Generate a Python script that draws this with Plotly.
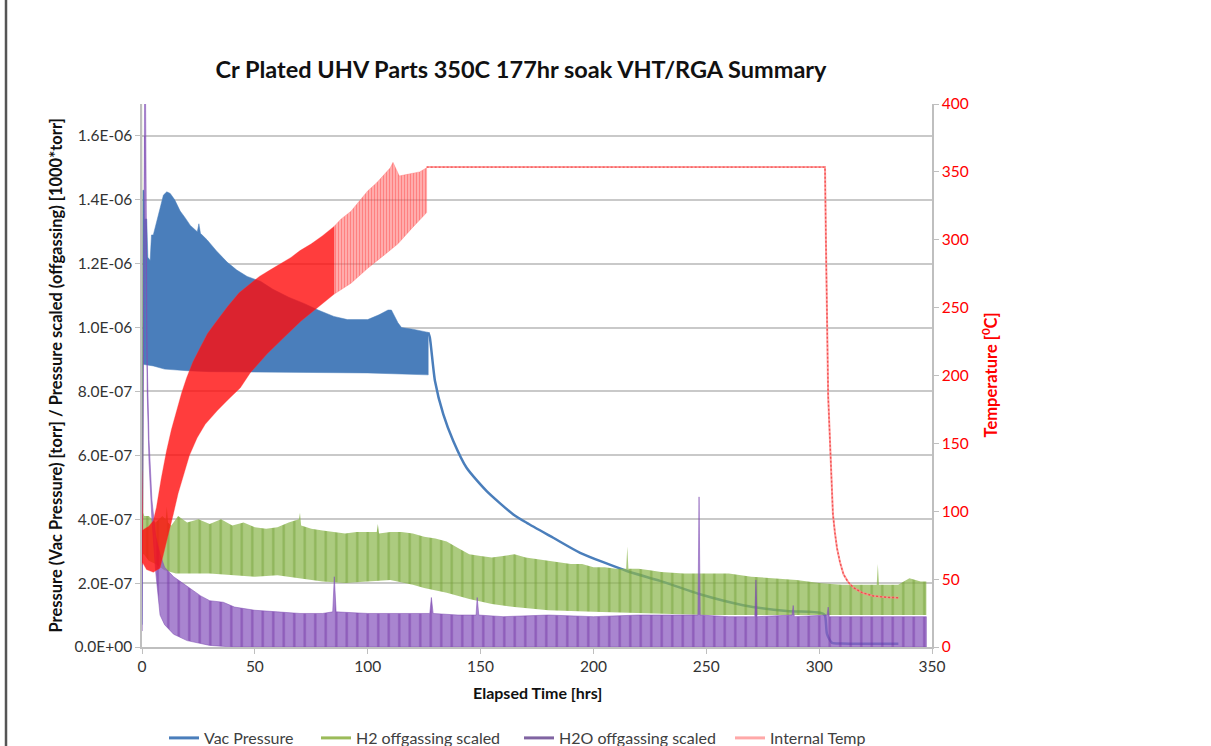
import plotly.graph_objects as go

# ---------------- data ----------------
# Left-axis pressures are listed in units of 1e-7 torr, times in hours.
P_UNIT = 1e-7

# Vac Pressure: oscillation envelope while the chamber is cycling (0-127 h)
vac_hi_t = [0.0, 0.4, 0.9, 1.2, 2.1, 2.6, 3.6, 4.2, 5.0, 7.3, 9.5, 11.0, 12.5, 14.5, 16.9,
            19.0, 21.4, 24.5, 25.2, 25.9, 28.8, 33.0, 37.7, 42.0, 46.6, 52.5, 58.0, 65.0,
            72.0, 78.0, 85.0, 91.0, 100.0, 105.0, 109.0, 110.5, 112.0, 113.4, 115.0, 120.0,
            126.8]
vac_hi = [0.7, 14.3, 14.3, 13.4, 13.4, 12.2, 12.1, 12.9, 12.9, 13.55, 14.15, 14.25, 14.2,
          14.0, 13.65, 13.45, 13.2, 13.0, 13.25, 12.95, 12.75, 12.4, 12.05, 11.8, 11.6,
          11.45, 11.2, 10.95, 10.75, 10.55, 10.35, 10.25, 10.25, 10.4, 10.55, 10.55, 10.35,
          10.15, 10.0, 9.95, 9.85]
vac_lo_t = [0.0, 0.4, 5.0, 10.0, 20.0, 30.0, 50.0, 70.0, 100.0, 126.8]
vac_lo = [0.7, 8.85, 8.8, 8.7, 8.65, 8.62, 8.6, 8.6, 8.58, 8.52]

# Vac Pressure: single trace after cycling stops
vac_t = [126.8, 127.5, 129.8, 133.5, 137.9, 143.8, 152.7, 164.5, 170.4, 182.2, 194.1,
         214.8, 229.5, 247.2, 266.3, 285.7, 300.5, 302.5, 303.5, 305.7, 310.0, 320.0, 335.1]
vac_p = [9.85, 9.7, 8.33, 7.28, 6.45, 5.61, 4.88, 4.15, 3.89, 3.42, 2.95, 2.38, 2.07, 1.65,
         1.31, 1.13, 1.07, 1.0, 0.40, 0.13, 0.11, 0.10, 0.10]

# H2 offgassing scaled: envelope of the oscillating signal
h2_hi_t = [0.0, 0.3, 0.6, 1.0, 3.0, 6.0, 9.0, 10.5, 11.0, 11.5, 13.0, 16.0, 20.0, 25.0,
           30.0, 35.0, 40.0, 45.0, 50.0, 55.0, 60.0, 65.0, 69.5, 70.0, 70.5, 75.0, 80.0,
           85.0, 90.0, 95.0, 100.0, 104.0, 104.5, 105.0, 110.0, 115.0, 120.0, 125.0, 130.0,
           135.0, 140.0, 145.0, 150.0, 155.0, 160.0, 165.0, 170.0, 175.0, 180.0, 185.0,
           190.0, 195.0, 200.0, 205.0, 210.0, 214.5, 215.0, 215.5, 220.0, 225.0, 230.0,
           240.0, 250.0, 260.0, 270.0, 280.0, 290.0, 300.0, 310.0, 320.0, 325.5, 326.0,
           326.5, 335.0, 340.0, 345.0, 347.5]
h2_hi = [4.0, 18.0, 4.2, 4.1, 4.1, 3.9, 4.1, 4.0, 4.4, 3.9, 3.8, 4.1, 3.9, 4.0, 3.85, 4.0,
         3.8, 3.9, 3.75, 3.7, 3.75, 3.9, 4.0, 4.2, 3.8, 3.7, 3.65, 3.6, 3.55, 3.6, 3.6, 3.6,
         3.85, 3.55, 3.6, 3.6, 3.55, 3.45, 3.4, 3.3, 3.1, 2.9, 2.85, 2.8, 2.85, 2.9, 2.8,
         2.75, 2.7, 2.65, 2.6, 2.6, 2.5, 2.5, 2.45, 2.45, 3.15, 2.45, 2.45, 2.4, 2.35, 2.3,
         2.3, 2.3, 2.2, 2.15, 2.1, 2.0, 1.95, 1.95, 1.95, 2.6, 1.95, 1.95, 2.15, 2.05, 2.05]
h2_lo_t = [0.0, 0.8, 3.0, 6.0, 10.0, 15.0, 20.0, 30.0, 40.0, 50.0, 60.0, 70.0, 80.0, 90.0,
           100.0, 110.0, 120.0, 125.0, 135.0, 145.0, 155.0, 165.0, 180.0, 200.0, 250.0,
           300.0, 347.5]
h2_lo = [2.9, 2.9, 2.7, 2.6, 2.4, 2.3, 2.3, 2.3, 2.25, 2.2, 2.25, 2.15, 2.05, 2.0, 2.05,
         2.1, 1.95, 1.85, 1.7, 1.5, 1.35, 1.25, 1.15, 1.1, 1.0, 1.0, 1.0]

# H2O offgassing scaled: envelope of the oscillating signal
h2o_hi_t = [0.0, 1.2, 1.6, 2.3, 3.1, 4.4, 6.0, 8.0, 10.0, 14.0, 18.0, 21.0, 26.0, 30.0,
            36.0, 41.0, 50.0, 60.0, 70.0, 80.0, 84.5, 85.2, 86.0, 100.0, 110.0, 120.0,
            127.5, 128.2, 129.0, 140.0, 148.0, 148.5, 149.2, 160.0, 180.0, 200.0, 220.0,
            240.0, 246.3, 246.8, 247.3, 260.0, 271.5, 272.0, 272.5, 288.0, 288.5, 289.0,
            303.5, 304.0, 304.5, 320.0, 335.0, 347.5]
h2o_hi = [0.5, 18.0, 17.0, 9.0, 6.5, 4.6, 3.5, 2.9, 2.5, 2.2, 2.0, 1.85, 1.6, 1.45, 1.4,
          1.25, 1.15, 1.1, 1.05, 1.05, 1.1, 2.2, 1.1, 1.05, 1.05, 1.05, 1.05, 1.55, 1.05,
          1.0, 1.0, 1.55, 1.0, 0.95, 1.0, 0.95, 1.0, 1.0, 1.0, 4.7, 1.0, 0.95, 0.95, 2.1,
          0.95, 1.0, 1.3, 0.95, 1.0, 1.25, 0.95, 0.95, 0.95, 0.95]
h2o_lo_t = [0.0, 1.2, 1.6, 2.3, 3.1, 4.4, 6.0, 8.0, 10.0, 14.0, 20.0, 30.0, 40.0, 347.5]
h2o_lo = [0.5, 16.0, 15.0, 8.0, 5.8, 4.0, 2.4, 1.0, 0.7, 0.4, 0.2, 0.05, 0.0, 0.0]

# Internal Temp (deg C): envelope while ramping, dense logging segment (0-85 h)
temp_a_hi_t = [0.0, 0.3, 1.0, 3.0, 5.0, 6.4, 8.5, 10.8, 13.0, 15.3, 17.5, 19.7, 22.5, 25.6,
               29.0, 33.0, 38.0, 43.0, 48.0, 52.0, 57.0, 61.0, 66.0, 70.0, 75.0, 80.0, 85.2]
temp_a_hi = [130, 86, 87, 89, 93, 103, 124, 144, 160, 174, 187, 198, 210, 220, 231, 240,
             251, 261, 268, 273, 278, 282, 287, 292, 297, 303, 310]
temp_a_lo_t = [0.0, 0.3, 2.0, 5.0, 8.0, 11.0, 13.9, 16.0, 18.4, 21.0, 24.4, 28.0, 33.3,
               38.0, 43.6, 48.0, 55.5, 62.9, 70.4, 77.8, 85.2]
temp_a_lo = [60, 62, 57, 55, 58, 78, 98, 113, 127, 141, 154, 164, 174, 182, 191, 202, 216,
             228, 240, 250, 260]
# Internal Temp: sparser logging segment (85-126 h)
temp_b_hi_t = [85.2, 88.0, 92.6, 96.0, 100.0, 104.0, 107.5, 110.0, 111.2, 112.5, 114.0,
               117.0, 120.0, 123.0, 126.1]
temp_b_hi = [310, 315, 321, 328, 336, 342, 348, 353, 357, 352, 347, 348, 349, 350, 353]
temp_b_lo_t = [85.2, 92.6, 100.0, 107.5, 113.4, 119.3, 126.1]
temp_b_lo = [260, 268, 279, 289, 297, 308, 320]
# Internal Temp: soak and cool-down
temp_t = [126.1, 302.6, 303.0, 303.5, 304.0, 304.6, 305.2, 306.1, 307.0, 307.9, 309.3,
          310.8, 312.8, 315.2, 319.0, 324.1, 330.0, 335.2]
temp_c = [353.5, 353.5, 300, 220, 185, 160, 130, 98, 84, 73, 62, 53.5, 48, 43.7, 40, 37.6,
          36.6, 36.3]

x_ticks = [0, 50, 100, 150, 200, 250, 300, 350]
p_ticks = [0, 2e-7, 4e-7, 6e-7, 8e-7, 1.0e-6, 1.2e-6, 1.4e-6, 1.6e-6]
p_tick_text = ["0.0E+00", "2.0E-07", "4.0E-07", "6.0E-07", "8.0E-07", "1.0E-06",
               "1.2E-06", "1.4E-06", "1.6E-06"]
t_ticks = [0, 50, 100, 150, 200, 250, 300, 350, 400]

series_names = ["Vac Pressure", "H2 offgassing scaled", "H2O offgassing scaled",
                "Internal Temp"]
series_colors = ["#4A7EBB", "#9BBB59", "#8064A2", "#FFA8A8"]

# ---------------- figure ----------------
FONT = "Lato, 'Open Sans', sans-serif"


def outline(t_hi, v_hi, t_lo, v_lo, scale=1.0):
    """Closed outline: upper envelope forward, lower envelope back."""
    xs = list(t_hi) + list(t_lo)[::-1]
    ys = [v * scale for v in v_hi] + [v * scale for v in v_lo][::-1]
    return xs, ys


fig = go.Figure()

# Vac Pressure band and tail
bx, by = outline(vac_hi_t, vac_hi, vac_lo_t, vac_lo, P_UNIT)
fig.add_trace(go.Scatter(x=bx, y=by, mode="lines", fill="toself", fillcolor="#4A7EBB",
                         line=dict(width=0.5, color="#4A7EBB"), showlegend=False,
                         hoverinfo="skip"))
fig.add_trace(go.Scatter(x=vac_t, y=[v * P_UNIT for v in vac_p], mode="lines",
                         line=dict(color="#4A7EBB", width=2.5, shape="spline",
                                   smoothing=0.6),
                         showlegend=False))

# H2 band
bx, by = outline(h2_hi_t, h2_hi, h2_lo_t, h2_lo, P_UNIT)
fig.add_trace(go.Scatter(x=bx, y=by, mode="lines", fill="toself",
                         fillcolor="rgba(140,184,78,0.72)",
                         fillpattern=dict(shape="|", size=10.5, solidity=0.22,
                                          fgcolor="rgba(112,158,50,0.95)",
                                          bgcolor="rgba(140,184,78,0.72)"),
                         line=dict(width=0), showlegend=False, hoverinfo="skip"))

# H2O band
bx, by = outline(h2o_hi_t, h2o_hi, h2o_lo_t, h2o_lo, P_UNIT)
fig.add_trace(go.Scatter(x=bx, y=by, mode="lines", fill="toself",
                         fillcolor="rgba(140,92,192,0.75)",
                         fillpattern=dict(shape="|", size=10.5, solidity=0.22,
                                          fgcolor="rgba(108,44,160,0.95)",
                                          bgcolor="rgba(140,92,192,0.75)"),
                         line=dict(width=0.6, color="rgba(128,80,180,0.9)"),
                         showlegend=False, hoverinfo="skip"))

# Internal Temp bands (right axis)
bx, by = outline(temp_a_hi_t, temp_a_hi, temp_a_lo_t, temp_a_lo)
fig.add_trace(go.Scatter(x=bx, y=by, yaxis="y2", mode="lines", fill="toself",
                         fillcolor="rgba(255,12,12,0.80)",
                         line=dict(width=0.5, color="rgba(255,60,60,0.6)"),
                         showlegend=False, hoverinfo="skip"))
bx, by = outline(temp_b_hi_t, temp_b_hi, temp_b_lo_t, temp_b_lo)
fig.add_trace(go.Scatter(x=bx, y=by, yaxis="y2", mode="lines", fill="toself",
                         fillcolor="rgba(255,100,100,0.6)",
                         fillpattern=dict(shape="|", size=3, solidity=0.5,
                                          fgcolor="rgba(255,40,40,0.8)",
                                          bgcolor="rgba(255,130,130,0.55)"),
                         line=dict(width=0.5, color="rgba(255,90,90,0.6)"),
                         showlegend=False, hoverinfo="skip"))
fig.add_trace(go.Scatter(x=temp_t, y=temp_c, yaxis="y2", mode="lines",
                         line=dict(color="rgba(255,140,140,0.8)", width=2),
                         showlegend=False))
fig.add_trace(go.Scatter(x=temp_t, y=temp_c, yaxis="y2", mode="lines",
                         line=dict(color="rgba(240,60,60,0.8)", width=1.4, dash="2px,2px"),
                         showlegend=False))

# Legend entries, each placed in its own legend box along the bottom
legend_x_px = [171, 323, 526, 737]
legend_ids = ["legend", "legend2", "legend3", "legend4"]
for name, color, lid in zip(series_names, series_colors, legend_ids):
    fig.add_trace(go.Scatter(x=[None], y=[None], mode="lines", name=name,
                             line=dict(color=color, width=3), legend=lid))

PLOT_L, PLOT_W, PLOT_T, PLOT_H = 142, 790, 104, 543


def px_to_paper_x(px):
    return (px - PLOT_L) / PLOT_W


def px_to_paper_y(py):
    return 1 - (py - PLOT_T) / PLOT_H


legend_style = dict(orientation="h", yanchor="middle", xanchor="left",
                    bgcolor="rgba(0,0,0,0)", borderwidth=0,
                    font=dict(family=FONT, size=16, color="#404040"))
legend_layout = {}
for lid, xpx in zip(legend_ids, legend_x_px):
    legend_layout[lid] = dict(legend_style, x=px_to_paper_x(xpx - 7),
                              y=px_to_paper_y(738))

axis_line = "#BFBFBF"
tick_font = dict(family=FONT, size=15.5, color="#333333")
fig.update_layout(
    width=1211, height=746,
    margin=dict(l=PLOT_L, r=1211 - PLOT_L - PLOT_W, t=PLOT_T, b=746 - PLOT_T - PLOT_H,
                autoexpand=False),
    paper_bgcolor="white", plot_bgcolor="white",
    font=dict(family=FONT, color="#333333"),
    title=dict(text="<b>Cr Plated UHV Parts 350C 177hr soak VHT/RGA Summary</b>",
               x=521 / 1211, xanchor="center", y=1 - 70 / 746, yanchor="middle",
               font=dict(family=FONT, size=23.5, color="#111111")),
    xaxis=dict(range=[0, 350], tickvals=x_ticks, showgrid=False, zeroline=False,
               showline=True, linecolor=axis_line, linewidth=1.5, ticks="outside",
               ticklen=5, tickcolor=axis_line, tickfont=tick_font),
    yaxis=dict(range=[0, 1.7e-6], tickvals=p_ticks, ticktext=p_tick_text, showgrid=True,
               gridcolor="#C9C9C9", gridwidth=1.5, zeroline=False, showline=True,
               linecolor=axis_line, linewidth=1.5, ticks="outside", ticklen=5,
               tickcolor=axis_line, tickfont=tick_font),
    yaxis2=dict(range=[0, 400], tickvals=t_ticks, overlaying="y", side="right",
                showgrid=False, zeroline=False, showline=True, linecolor=axis_line,
                linewidth=1.5, ticks="outside", ticklen=5, tickcolor=axis_line,
                tickfont=dict(family=FONT, size=15.5, color="#FF0000")),
    **legend_layout,
)

fig.add_annotation(text="<b>Pressure (Vac Pressure) [torr] / Pressure scaled (offgassing) [1000*torr]</b>",
                   xref="paper", yref="paper", x=px_to_paper_x(55), y=0.5, textangle=-90,
                   showarrow=False, xanchor="center", yanchor="middle",
                   font=dict(family=FONT, size=16.5, color="#111111"))
fig.add_annotation(text="<b>Temperature [<sup>0</sup>C]</b>",
                   xref="paper", yref="paper", x=px_to_paper_x(990), y=0.5, textangle=-90,
                   showarrow=False, xanchor="center", yanchor="middle",
                   font=dict(family=FONT, size=16.5, color="#FF0000"))
fig.add_annotation(text="<b>Elapsed Time [hrs]</b>",
                   xref="paper", yref="paper", x=px_to_paper_x(537), y=px_to_paper_y(692),
                   showarrow=False, xanchor="center", yanchor="middle",
                   font=dict(family=FONT, size=16, color="#111111"))

# Page frame edge on the left
fig.add_shape(type="line", xref="paper", yref="paper",
              x0=px_to_paper_x(6), x1=px_to_paper_x(6),
              y0=px_to_paper_y(-5), y1=px_to_paper_y(760),
              line=dict(color="#555555", width=2.5))

fig.write_html("out.html")
